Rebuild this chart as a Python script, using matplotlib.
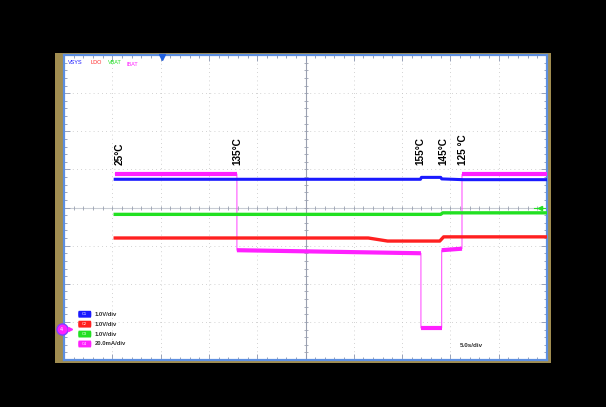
import matplotlib.pyplot as plt
from matplotlib.patches import Rectangle, FancyBboxPatch

# time axis in seconds (5.0 s/div), vertical axis in screen divisions (centre = 0)
vsys_t = [5.3, 36.9, 37.0, 39.0, 39.1, 41.3, 50.0]
vsys_v = [0.74, 0.74, 0.79, 0.79, 0.75, 0.73, 0.73]

ldo_t = [5.3, 31.5, 33.5, 38.9, 39.3, 50.0]
ldo_v = [-0.80, -0.80, -0.88, -0.88, -0.77, -0.77]

vbat_t = [5.3, 39.0, 39.2, 50.0]
vbat_v = [-0.18, -0.18, -0.14, -0.14]

ibat_t = [5.3, 17.9, 17.9, 36.95, 36.95, 39.1, 39.1, 41.2, 41.2, 50.0]
ibat_v = [0.88, 0.88, -1.12, -1.20, -3.16, -3.16, -1.12, -1.08, 0.87, 0.87]

temp_labels = ["25°C", "135°C", "155°C", "145°C", "125 °C"]
temp_t = [5.8, 17.9, 36.9, 39.3, 41.3]

scale_labels = ["1.0V/div", "1.0V/div", "1.0V/div", "20.0mA/div"]
chan_names = ["VSYS", "LDO", "VBAT", "IBAT"]
chan_colors = ["#1a1aff", "#ff2020", "#22e022", "#ff20ff"]

W, H = 606, 407
fig = plt.figure(figsize=(W / 100, H / 100), dpi=100, facecolor="black")

def fx(px):
    return px / W

def fy(py):
    return 1 - py / H

# olive bezel
fig.patches.append(Rectangle((fx(55), fy(363)), fx(551) - fx(55), fy(53) - fy(363),
                             transform=fig.transFigure, facecolor="#a08c50",
                             edgecolor="none", zorder=-5))

ax = fig.add_axes([fx(64), fy(360), fx(547) - fx(64), fy(55) - fy(360)])
ax.set_facecolor("white")
ax.set_xlim(0, 50)
ax.set_ylim(-4, 4)
for s in ax.spines.values():
    s.set_color("#5d8fe0")
    s.set_linewidth(1.6)

# graticule
for x in range(5, 50, 5):
    if x != 25:
        ax.axvline(x, color="#c4c4c4", lw=0.6, ls=(0, (1, 4)), zorder=1)
for y in range(-3, 4):
    if y != 0:
        ax.axhline(y, color="#c4c4c4", lw=0.6, ls=(0, (1, 4)), zorder=1)
ax.axvline(25, color="#9aa0b0", lw=0.8, zorder=1)
ax.axhline(0, color="#c8ccd4", lw=0.8, zorder=1)
minor_x = [i for i in range(1, 50)]
minor_y = [i / 5 for i in range(-19, 20)]
ax.plot(minor_x, [0] * len(minor_x), ls="none", marker="|", ms=3, color="#9aa0b0", mew=0.6, zorder=1)
ax.plot([25] * len(minor_y), minor_y, ls="none", marker="_", ms=3, color="#9aa0b0", mew=0.6, zorder=1)

ax.set_xticks(range(0, 51, 5))
ax.set_xticks(range(0, 51), minor=True)
ax.set_yticks(range(-4, 5))
ax.set_yticks(minor_y, minor=True)
ax.tick_params(which="both", direction="in", top=True, right=True,
               labelbottom=False, labelleft=False, color="#8a95b0", width=0.6)
ax.tick_params(which="major", length=4)
ax.tick_params(which="minor", length=2.5)

# traces
ax.plot(ibat_t, ibat_v, color="#ff40ff", lw=0.7, zorder=3)
for i in range(0, len(ibat_t), 2):
    ax.plot(ibat_t[i:i + 2], ibat_v[i:i + 2], color="#ff20ff", lw=3.0,
            solid_capstyle="butt", zorder=3)
ax.plot(vsys_t, vsys_v, color="#1a1aff", lw=2.2, zorder=4)
ax.plot(vbat_t, vbat_v, color="#22e022", lw=2.4, zorder=4)
ax.plot(ldo_t, ldo_v, color="#ff2020", lw=2.4, zorder=4)

# temperature annotations
for t, lab in zip(temp_t, temp_labels):
    ax.text(t, 1.12, lab, rotation=90, ha="center", va="bottom", fontsize=7.2,
            fontweight="bold", family="Liberation Sans", color="black")

# channel names at top left
name_x = [0.008, 0.055, 0.090, 0.130]
name_y = [0.976, 0.976, 0.976, 0.968]
for x, y, n, c in zip(name_x, name_y, chan_names, chan_colors):
    ax.text(x, y, n, transform=ax.transAxes, fontsize=4, color=c,
            ha="left", va="center", family="Liberation Sans")

# trigger marker, ground markers
ax.plot([10.1], [3.96], marker="v", ms=5, color="#2060e0", clip_on=False, zorder=6)
ax.plot([-0.25], [-3.19], marker="o", ms=8, color="#ff20ff", mec="#8040ff", mew=1,
        clip_on=False, zorder=6)
ax.text(-0.25, -3.19, "4", fontsize=3.5, color="white", ha="center", va="center",
        zorder=7, clip_on=False)
ax.plot([0.6], [-3.19], marker=">", ms=3, color="#ff20ff", clip_on=False, zorder=6)
ax.plot([49.3], [0.0], marker="<", ms=3, color="#22e022", zorder=6)
ax.plot([48.7, 49.8], [0.0, 0.0], color="#22e022", lw=0.8, zorder=6)

# channel scale legend
for i, (lab, c) in enumerate(zip(scale_labels, chan_colors)):
    y = -2.80 - i * 0.26
    ax.add_patch(FancyBboxPatch((1.5, y - 0.06), 1.3, 0.12,
                                boxstyle="round,pad=0.03,rounding_size=0.07",
                                facecolor=c, edgecolor="none", zorder=6))
    ax.text(2.15, y, "C%d" % (i + 1), fontsize=2.8, color="white",
            ha="center", va="center", zorder=7)
    ax.text(3.2, y, lab, fontsize=4.2, color="#303030", ha="left", va="center",
            family="Liberation Sans", fontweight="bold", zorder=7)

ax.text(42.2, -3.63, "5.0s/div", fontsize=4.5, color="#303030", ha="center",
        va="center", family="Liberation Sans", fontweight="bold")

fig.savefig("out.png", dpi=100, facecolor="black")
